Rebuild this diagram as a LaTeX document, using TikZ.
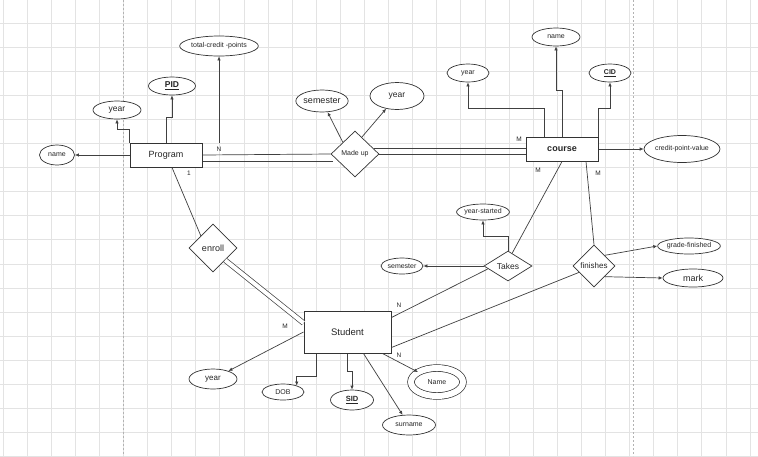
\documentclass[tikz,border=0pt]{standalone}
\usepackage{fontspec}
\setmainfont{Liberation Sans}
\usetikzlibrary{shapes.geometric,calc,arrows.meta}

\begin{document}
\begin{tikzpicture}[x=1pt,y=-1pt,
    every node/.style={text=black!85},
    ent/.style={draw=black!80,fill=white,line width=1pt,inner sep=0pt,minimum width=72pt,minimum height=24pt,font=\fontsize{9}{10}\selectfont},
    attr/.style={draw=black!80,fill=white,ellipse,inner sep=0pt,line width=0.7pt,font=\fontsize{7}{8}\selectfont},
    rel/.style={draw=black!80,fill=white,diamond,inner sep=0pt,line width=0.7pt,font=\fontsize{8}{9}\selectfont},
    lbl/.style={inner sep=0pt,font=\fontsize{6.5}{7}\selectfont},
    arr/.style={draw=black!75,line width=0.7pt,-{Latex[length=4pt,width=3.5pt]}},
    ln/.style={draw=black!75,line width=0.7pt},
    gridln/.style={draw=black!11,line width=0.4pt}]
  \useasboundingbox[fill=white] (0,0) rectangle (758,456);
  % background grid
  \foreach \gx in {0,...,31} \draw[gridln] ({2.7+24.1*\gx},0) -- ({2.7+24.1*\gx},456);
  \foreach \gy in {0,...,19} \draw[gridln] (0,{-1.4+24.1*\gy}) -- (758,{-1.4+24.1*\gy});
  \draw[black!30,line width=0.5pt,dash pattern=on 2pt off 2pt] (123.2,0) -- (123.2,456);
  \draw[black!30,line width=0.5pt,dash pattern=on 2pt off 2pt] (633.5,0) -- (633.5,456);

  % Program
  \node[ent] (prog) at (166,155) {Program};
  \node[attr,minimum width=35pt,minimum height=20pt] (pname) at (57,155) {name};
  \node[attr,minimum width=48pt,minimum height=18pt,font=\fontsize{8.5}{9}\selectfont] (pyear) at (117,110) {year};
  \node[attr,minimum width=47pt,minimum height=18pt,font=\fontsize{8.5}{9}\selectfont] (pid) at (172,86) {\underline{\textbf{PID}}};
  \node[attr,minimum width=78pt,minimum height=20pt] (tcp) at (219,46) {total-credit -points};
  \coordinate (tcpfoot) at (219,143);
  \draw[arr] (prog.west) -- (pname.east);
  \draw[arr] (prog.north west) -- ++(0,-13) -| (pyear.south);
  \draw[arr] (prog.north) -- ++(0,-25) -| (pid.south);
  \draw[arr] (tcpfoot) -- (tcp.south);
  \node[lbl] (nprog) at (219,149) {N};
  \node[lbl] (oneprog) at (189,173) {1};

  % Made up
  \node[rel,minimum width=48pt,minimum height=46pt,font=\fontsize{7}{8}\selectfont] (madeup) at (355,154) {Made up};
  \node[attr,minimum width=48pt,minimum height=22pt,font=\fontsize{9}{10}\selectfont] (msem) at (322,101) {semester};
  \node[attr,minimum width=54pt,minimum height=27pt,font=\fontsize{8.5}{9}\selectfont] (myear) at (397,96) {year};
  \draw[arr] (madeup.north west) -- (msem);
  \draw[arr] (madeup.68) -- (myear);
  \draw[ln] (prog.east) -- (madeup.west);
  \draw[ln] ($(prog.east)+(0,6)$) -- ($(madeup.west)+(2,7)$);

  % course
  \node[ent,font=\fontsize{9}{10}\selectfont\bfseries] (course) at (562,149) {course};
  \node[attr,minimum width=42pt,minimum height=18pt] (cyear) at (468,73) {year};
  \node[attr,minimum width=48pt,minimum height=18pt] (cname) at (556,37) {name};
  \node[attr,minimum width=42pt,minimum height=18pt] (cid) at (610,73) {\underline{\textbf{CID}}};
  \node[attr,minimum width=72pt,minimum height=27pt] (cpv) at (682,149) {credit-point-value};
  \draw[arr] ($(course.north)+(-18,0)$) -- ++(0,-28) -| (cyear.south);
  \draw[arr] (course.north) -- ++(0,-46) -| (cname.south);
  \draw[arr] (course.north east) -- ++(0,-28) -| (cid.south);
  \draw[arr] (course.east) -- (cpv.west);
  \draw[ln] ($(madeup.east)+(-5,-6)$) -- ($(course.west)+(0,-1)$);
  \draw[ln] (madeup.east) -- (madeup.east -| course.west);
  \node[lbl] (mcourse) at (519,139) {M};
  \node[lbl] (mtakes) at (538,170) {M};
  \node[lbl] (mfin) at (598,173) {M};

  % Takes
  \node[rel,minimum width=48pt,minimum height=30pt,font=\fontsize{8.5}{9}\selectfont] (takes) at (508,266) {Takes};
  \node[attr,minimum width=48pt,minimum height=16pt] (ystart) at (483,212) {year-started};
  \node[attr,minimum width=42pt,minimum height=16pt] (tsem) at (402,266) {semester};
  \draw[arr] (takes.north) -- ++(0,-14) -| (ystart.south);
  \draw[arr] (takes.west) -- (tsem.east);
  \draw[ln] (course.south) -- (takes.72);

  % finishes
  \node[rel,minimum width=42pt,minimum height=42pt] (fin) at (594,266) {finishes};
  \node[attr,minimum width=57pt,minimum height=16pt] (grade) at (689,246) {grade-finished};
  \node[attr,minimum width=60pt,minimum height=18pt,font=\fontsize{9}{10}\selectfont] (mark) at (693,278) {mark};
  \draw[arr] (fin.north east) -- (grade.west);
  \draw[arr] (fin.south east) -- (mark.west);
  \draw[ln] ($(course.south)+(24,0)$) -- (fin.north);

  % Student
  \node[ent,minimum width=87pt,minimum height=42pt,font=\fontsize{9.5}{10}\selectfont] (student) at (347.5,332) {Student};
  \node[rel,minimum width=48pt,minimum height=48pt,font=\fontsize{9}{10}\selectfont] (enroll) at (213,248) {enroll};
  \node[attr,minimum width=48pt,minimum height=20pt,font=\fontsize{8}{9}\selectfont] (syear) at (213,379) {year};
  \node[attr,minimum width=42pt,minimum height=16pt] (dob) at (283,392) {DOB};
  \node[attr,minimum width=43pt,minimum height=20pt,font=\fontsize{7.5}{8}\selectfont] (sid) at (352,400) {\underline{\textbf{SID}}};
  \node[attr,minimum width=53pt,minimum height=20pt] (surname) at (409,425) {surname};
  \node[attr,double,double distance=6pt,minimum width=52pt,minimum height=28pt] (sname) at (437,382) {Name};
  \draw[ln] ($(prog.south)+(6,0)$) -- (enroll.north west);
  \draw[ln,double,double distance=4pt] (enroll.south east) -- ($(student.west)+(0,-9)$);
  \draw[ln] (takes.188) -- ($(student.north east)+(0,7)$);
  \draw[ln] (fin.203) -- ($(student.south east)+(0,-6)$);
  \draw[arr] (student.west) -- (syear);
  \draw[arr] ($(student.south)+(-31,0)$) -- ++(0,23) -| (dob.25);
  \draw[arr] (student.south) -- ++(0,18) -| (sid.north);
  \draw[arr] ($(student.south)+(16,0)$) -- (surname);
  \draw[arr] ($(student.south)+(35,0)$) -- (sname);
  \node[lbl] (mstud) at (285,326) {M};
  \node[lbl] (ntakes) at (399,305) {N};
  \node[lbl] (nname) at (399,355) {N};
\end{tikzpicture}
\end{document}
